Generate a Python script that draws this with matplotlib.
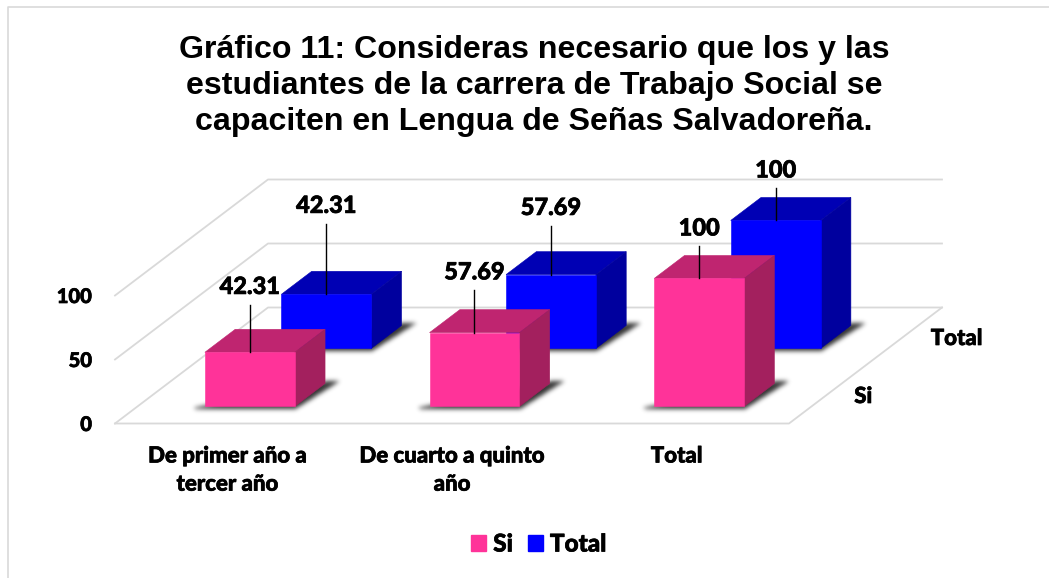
#!/usr/bin/env python3
# -*- coding: utf-8 -*-
"""
Grafico 11: 3D style clustered columns, drawn with an oblique projection
"""
import matplotlib
matplotlib.use("Agg")
import matplotlib.pyplot as plt
import matplotlib.patheffects as pe
import numpy as np
from matplotlib.path import Path

TITLE = ("Gráfico 11: Consideras necesario que los y las\n"
         "estudiantes de la carrera de Trabajo Social se\n"
         "capaciten en Lengua de Señas Salvadoreña.")

# data
categories = ["De primer año a\ntercer año", "De cuarto a quinto\naño", "Total"]
series_names = ["Si", "Total"]
si_values = [42.31, 57.69, 100]
total_values = [42.31, 57.69, 100]
value_labels_si = ["42.31", "57.69", "100"]
value_labels_total = ["42.31", "57.69", "100"]
y_ticks = [0, 50, 100]

# leader line lengths above each bar, in value units
leader_si = [37, 33, 25]
leader_total = [55, 38, 25]

# chart geometry (pixels)
WIDTH = 1049
HEIGHT = 578
FRONT_LEFT_X = 115
FRONT_Y = 423.5
FLOOR_W = 674
DEPTH_DX = 153
DEPTH_DY = -116
PX_PER_UNIT = 1.28

BAR_W = 0.40
BAR_D = 0.198
SERIES_FRONT = [0.147, 0.647]

GRID = "#d9d9d9"
FACES = [
    {"front": "#ff3399", "top": "#bf2570", "side": "#a3205e"},
    {"front": "#0000ff", "top": "#0000b4", "side": "#00009e"},
]
# thin stroke because the reference text is heavier than Lato's heaviest here
THICK = [pe.withStroke(linewidth=0.5, foreground="black")]
BOLD = {"family": ["Lato", "DejaVu Sans"], "fontweight": "black", "color": "black",
        "path_effects": THICK}


def project(x, depth, value):
    """ maps category position, depth fraction and value to pixels
        parameters: x (category units), depth (0 front, 1 back), value
        return: pixel x, pixel y
    """
    px = FRONT_LEFT_X + x * FLOOR_W / len(categories) + depth * DEPTH_DX
    py = FRONT_Y + depth * DEPTH_DY - value * PX_PER_UNIT
    return px, py


def draw_poly(ax, points, color, zorder):
    xs = [p[0] for p in points]
    ys = [p[1] for p in points]
    ax.fill(xs, ys, facecolor=color, edgecolor=color, linewidth=0.4, zorder=zorder)


def draw_shadows(ax, s, zorder):
    """ soft floor shadows for one series: polygons rasterised then blurred """
    gx, gy = np.meshgrid(np.arange(WIDTH) + 0.5, np.arange(HEIGHT) + 0.5)
    grid = np.column_stack([gx.ravel(), gy.ravel()])
    mask = np.zeros(HEIGHT * WIDTH)
    for i in range(len(categories)):
        x0 = i + 0.5 - BAR_W / 2
        x1 = i + 0.5 + BAR_W / 2
        d0 = SERIES_FRONT[s]
        d1 = d0 + BAR_D
        fl = project(x0, d0, 0)
        fr = project(x1, d0, 0)
        br = project(x1, d1, 0)
        pts = [(fl[0] - 15, fl[1] + 2), (fr[0], fr[1] + 3),
               (br[0] + 14, br[1] - 2), (br[0], br[1] - 2)]
        mask[Path(pts).contains_points(grid)] = 1
    mask = mask.reshape(HEIGHT, WIDTH)

    # gaussian blur, one axis at a time
    kernel = np.exp(-0.5 * (np.arange(-7, 8) / 2.3) ** 2)
    kernel /= kernel.sum()
    mask = np.apply_along_axis(np.convolve, 0, mask, kernel, mode="same")
    mask = np.apply_along_axis(np.convolve, 1, mask, kernel, mode="same")

    rgba = np.zeros((HEIGHT, WIDTH, 4))
    rgba[..., 3] = mask * 0.8
    ax.imshow(rgba, extent=(0, WIDTH, HEIGHT, 0), aspect="auto", zorder=zorder,
              interpolation="nearest")


def draw_bar(ax, i, s, value, leader, label, zorder):
    x0 = i + 0.5 - BAR_W / 2
    x1 = i + 0.5 + BAR_W / 2
    d0 = SERIES_FRONT[s]
    d1 = d0 + BAR_D
    faces = FACES[s]

    # top and side first, then the front face
    draw_poly(ax, [project(x0, d0, value), project(x1, d0, value),
                   project(x1, d1, value), project(x0, d1, value)], faces["top"], zorder)
    draw_poly(ax, [project(x1, d0, 0), project(x1, d1, 0),
                   project(x1, d1, value), project(x1, d0, value)], faces["side"], zorder)
    draw_poly(ax, [project(x0, d0, 0), project(x1, d0, 0),
                   project(x1, d0, value), project(x0, d0, value)], faces["front"], zorder)

    # leader line and value label
    cx, cy = project(i + 0.5, d0, value)
    _, ly = project(i + 0.5, d0, value + leader)
    ax.plot([cx, cx], [cy, ly], color="black", lw=1.0, zorder=6)
    ax.text(cx, ly - 7, label, ha="center", va="bottom", fontsize=17, zorder=7, **BOLD)


def main():
    fig = plt.figure(figsize=(10.49, 5.78), dpi=100)
    ax = fig.add_axes([0, 0, 1, 1])
    ax.axis("off")

    # outer frame of the chart: only left and top edges show
    ax.plot([8, 8, WIDTH], [HEIGHT, 7, 7], color=GRID, lw=1.2, zorder=1)

    ax.text(534, 86, TITLE, ha="center", va="center", fontsize=23.1, fontweight="bold",
            family="Liberation Sans", linespacing=1.27, color="black")

    # back wall, side wall and floor
    n = len(categories)
    for tick in y_ticks:
        a = project(0, 0, tick)
        b = project(0, 1, tick)
        c = project(n, 1, tick)
        ax.plot([a[0], b[0], c[0]], [a[1], b[1], c[1]], color=GRID, lw=1.3, zorder=1)
        ax.text(a[0] - 23, a[1] + 1, str(tick), ha="right", va="center", fontsize=14.5, **BOLD)
    a = project(0, 0, 0)
    b = project(n, 0, 0)
    c = project(n, 1, 0)
    ax.plot([a[0], b[0], c[0]], [a[1], b[1], c[1]], color=GRID, lw=1.3, zorder=1)

    # back series first so the front one covers it
    draw_shadows(ax, 1, 2)
    for i in range(n):
        draw_bar(ax, i, 1, total_values[i], leader_total[i], value_labels_total[i], 3)
    draw_shadows(ax, 0, 4)
    for i in range(n):
        draw_bar(ax, i, 0, si_values[i], leader_si[i], value_labels_si[i], 5)

    # axis labels
    for i, name in enumerate(categories):
        px, py = project(i + 0.5, 0, 0)
        ax.text(px, py + 22, name, ha="center", va="top", fontsize=16, linespacing=1.42, **BOLD)
    for s, name in enumerate(series_names):
        px, py = project(n, 0.25 + 0.5 * s, 0)
        ax.text(px + 27, py + 2, name, ha="left", va="center", fontsize=16, **BOLD)

    # legend
    handles = [plt.Rectangle((0, 0), 1, 1, color=FACES[s]["front"]) for s in range(2)]
    leg = ax.legend(handles, series_names, loc="center",
                    bbox_to_anchor=(538.5 / WIDTH, 1 - 544 / HEIGHT),
                    ncol=2, frameon=False, handlelength=0.62, handleheight=0.62,
                    handletextpad=0.3, columnspacing=0.6,
                    prop={"family": "Lato", "weight": "black", "size": 17.5})
    for t in leg.get_texts():
        t.set_path_effects(THICK)

    ax.set_xlim(0, WIDTH)
    ax.set_ylim(HEIGHT, 0)
    plt.savefig("out.png", dpi=100)


if __name__ == "__main__":
    main()
